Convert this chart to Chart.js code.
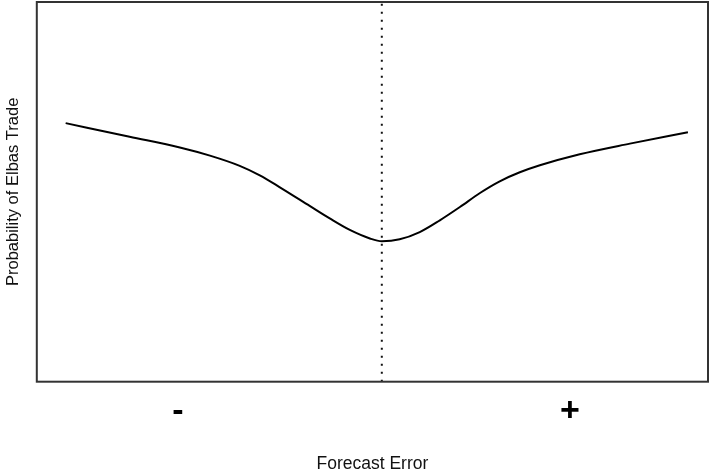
<!DOCTYPE html>
<html>
<head>
<meta charset="utf-8">
<script src="https://cdn.jsdelivr.net/npm/chart.js@4"></script>
<style>
  html, body { margin: 0; padding: 0; background: #fff; }
  #wrap { width: 709px; height: 473px; }
</style>
</head>
<body>
<div id="wrap"><canvas id="elbasChart"></canvas></div>
<script>
// Forecast error (0 = perfect forecast) and probability of an Elbas trade
const forecastError = [-10.08, -8.04, -6.44, -5.48, -4.53, -3.89, -3.25, -2.3, -1.66, -1.02, -0.38, 0, 0.57, 1.21, 1.85, 2.49, 3.13, 3.76, 4.4, 5.04, 6.31, 7.91, 9.76];
const tradeProb = [0.681, 0.645, 0.617, 0.5955, 0.5686, 0.5435, 0.512, 0.463, 0.430, 0.3997, 0.3773, 0.370, 0.375, 0.394, 0.425, 0.460, 0.497, 0.5277, 0.5515, 0.570, 0.599, 0.627, 0.657];
// Where the dotted zero line runs
const zeroLineX = [0, 0];
const zeroLineY = [0, 1];
// Sign labels under the axis
const signTicks = [-6.5, 6.0];
const signLabels = ["-", "+"];

const curve = forecastError.map((x, i) => ({ x: x, y: tradeProb[i] }));
const zeroLine = zeroLineX.map((x, i) => ({ x: x, y: zeroLineY[i] }));

// Draws the box round the plot area
const frameBox = {
  id: "frameBox",
  afterDraw(chart) {
    const a = chart.chartArea;
    const c = chart.ctx;
    c.save();
    c.strokeStyle = "#333";
    c.lineWidth = 2;
    c.strokeRect(a.left, a.top, a.right - a.left, a.bottom - a.top);
    c.restore();
  },
};

new Chart(document.getElementById("elbasChart"), {
  type: "line",
  data: {
    datasets: [
      {
        data: curve,
        borderColor: "#000",
        borderWidth: 2,
        pointRadius: 0,
        cubicInterpolationMode: "monotone",
      },
      {
        data: zeroLine,
        borderColor: "#111",
        borderWidth: 2,
        borderDash: [2, 6],
        pointRadius: 0,
      },
    ],
  },
  options: {
    responsive: true,
    maintainAspectRatio: false,
    animation: false,
    layout: { padding: { top: 2, right: 1, left: 0, bottom: 0 } },
    plugins: { legend: { display: false }, tooltip: { enabled: false } },
    scales: {
      x: {
        type: "linear",
        min: -11,
        max: 10.4,
        grid: { display: false },
        border: { display: false },
        afterBuildTicks: (axis) => {
          axis.ticks = signTicks.map((v) => ({ value: v }));
        },
        ticks: {
          autoSkip: false,
          maxRotation: 0,
          padding: 2,
          color: "#000",
          font: { family: "Liberation Sans", size: 34, weight: "bold" },
          callback: (value) => signLabels[signTicks.indexOf(value)],
        },
        title: {
          display: true,
          text: "Forecast Error",
          color: "#111",
          font: { family: "Liberation Sans", size: 17.5, lineHeight: 1.0 },
          padding: { top: 21, bottom: 0 },
        },
      },
      y: {
        min: 0,
        max: 1,
        grid: { display: false },
        border: { display: false },
        ticks: { display: false },
        title: {
          display: true,
          text: "Probability of Elbas Trade",
          color: "#111",
          font: { family: "Liberation Sans", size: 16.5 },
          padding: { top: 4, bottom: 5 },
        },
      },
    },
  },
  plugins: [frameBox],
});
</script>
</body>
</html>
